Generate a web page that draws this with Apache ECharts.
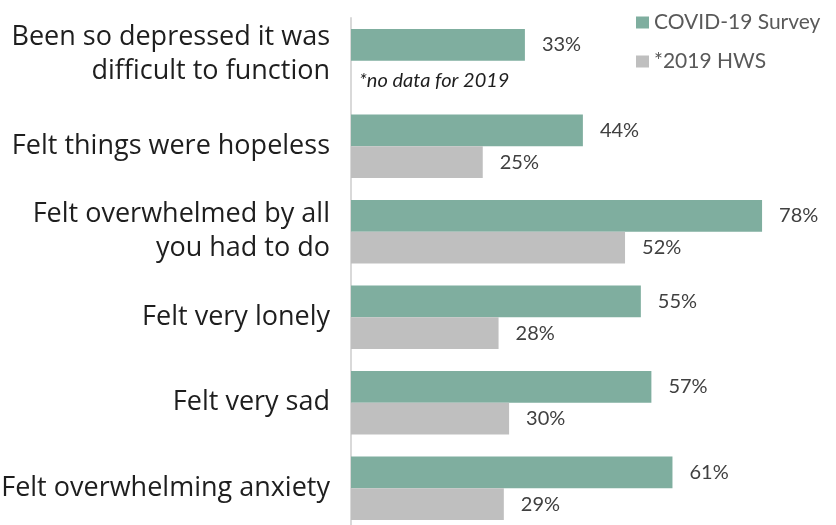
<!DOCTYPE html>
<html>
<head>
<meta charset="utf-8">
<script src="https://cdn.jsdelivr.net/npm/echarts@6/dist/echarts.min.js"></script>
<style>
  html, body { margin: 0; padding: 0; background: #fff; }
  #chart { width: 836px; height: 525px; }
</style>
</head>
<body>
<div id="chart"></div>
<script>
// Mental health indicators: share of respondents, COVID-19 survey vs 2019 HWS
const categories = [
  'Been so depressed it was\ndifficult to function',
  'Felt things were hopeless',
  'Felt overwhelmed by all\nyou had to do',
  'Felt very lonely',
  'Felt very sad',
  'Felt overwhelming anxiety'
];
const covidValues = [33, 44, 78, 55, 57, 61];
const hws2019Values = [null, 25, 52, 28, 30, 29];
const seriesNames = ['COVID-19 Survey', '*2019 HWS'];
const noDataNote = '*no data for 2019';

const chart = echarts.init(document.getElementById('chart'));

const valueLabel = {
  show: true,
  position: 'right',
  distance: 17,
  formatter: p => p.value + '%',
  fontFamily: 'Lato',
  fontSize: 20,
  color: '#404040'
};

// Category labels as rich text; the first one (no 2019 bar) sits a bit higher
function categoryLabel(value, index) {
  const lines = value.split('\n').map(l => '{t|' + l + '}');
  if (index === 0) lines.push('{s| }');
  return lines.join('\n');
}

chart.setOption({
  animation: false,
  legend: {
    orient: 'vertical',
    left: 631,
    top: 7,
    itemWidth: 13,
    itemHeight: 12,
    itemGap: 18,
    icon: 'rect',
    textStyle: { fontFamily: 'Lato', fontSize: 21, color: '#595959' },
    data: seriesNames
  },
  grid: {
    left: 351, top: 18, width: 527, height: 513,
    outerBoundsMode: 'none'
  },
  xAxis: {
    type: 'value',
    min: 0,
    max: 100,
    show: false
  },
  yAxis: {
    type: 'category',
    inverse: true,
    data: categories,
    axisLine: { show: true, lineStyle: { color: '#d9d9d9', width: 2 } },
    axisTick: { show: false },
    axisLabel: {
      margin: 21,
      align: 'right',
      formatter: categoryLabel,
      rich: {
        t: {
          fontFamily: 'Open Sans',
          fontSize: 27,
          lineHeight: 34,
          color: '#1e1e1e',
          align: 'right'
        },
        s: { fontSize: 10, lineHeight: 12 }
      }
    }
  },
  graphic: [{
    type: 'text',
    left: 359,
    top: 71,
    style: {
      text: noDataNote,
      fontFamily: 'Lato',
      fontStyle: 'italic',
      fontSize: 20,
      fill: '#1e1e1e'
    }
  }],
  series: [
    {
      name: seriesNames[0],
      type: 'bar',
      data: covidValues,
      barGap: '0%',
      barCategoryGap: '26%',
      itemStyle: { color: '#7fae9f' },
      label: valueLabel
    },
    {
      name: seriesNames[1],
      type: 'bar',
      data: hws2019Values,
      itemStyle: { color: '#bfbfbf' },
      label: valueLabel
    }
  ]
});
</script>
</body>
</html>
